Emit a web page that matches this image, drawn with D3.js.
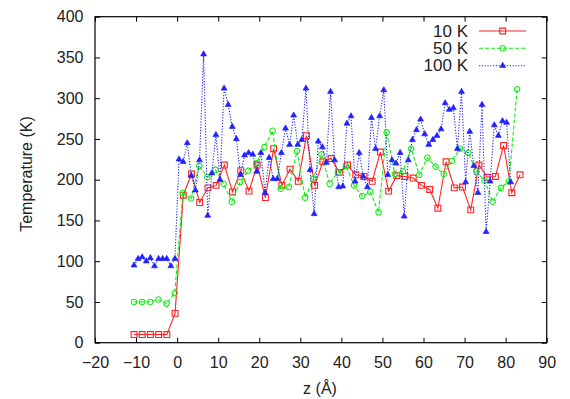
<!DOCTYPE html>
<html>
<head>
  <meta charset="UTF-8" />
  <title>Temperature profile</title>
  <script src="https://d3js.org/d3.v7.min.js"></script>
  <style>
    body { margin: 0; background: #fff; }
    text { font-family: "Liberation Sans", Arial, sans-serif; fill: #222; }
  </style>
</head>
<body>
  <div id="chart"></div>
  <script>
    // data
    const seriesNames = ["10 K", "50 K", "100 K"];
    const zStart = -10.5;
    const zSteps = [2, 1.985, 0.997];

    const temp10 = [10, 10, 10, 10, 10, 36, 181, 207, 172, 190, 193, 218, 185, 211, 186, 218,
      178, 238, 193, 213, 198, 254, 193, 222, 226, 209, 218, 206, 204, 198, 234, 186,
      205, 204, 202, 193, 188, 165, 222, 190, 191, 163, 218, 203, 204, 242, 184, 206];

    const temp50 = [50, 50, 50, 53, 48, 61, 184, 177, 217, 203, 212, 195, 173, 197, 211, 220,
      240, 260, 189, 191, 235, 178, 201, 231, 195, 209, 217, 193, 180, 185, 160, 258,
      207, 210, 238, 206, 227, 216, 207, 223, 238, 233, 210, 199, 173, 190, 198, 311];

    const temp100 = [95, 103, 105, 100, 104, 94, 103, 103, 103, 94, 103,
      225, 222, 245, 205, 187, 224, 354, 156, 208, 255, 200, 312, 292, 265, 250, 206,
      230, 233, 231, 210, 233, 184, 227, 201, 201, 233, 263, 243, 279, 243, 249, 312,
      212, 158, 247, 240, 221, 308, 224, 191, 192, 269, 278, 198, 233, 204, 191, 276,
      238, 278, 310, 206, 224, 220, 233, 155, 224, 249, 261, 274, 256, 243, 249, 254,
      262, 294, 286, 288, 238, 308, 197, 259, 217, 184, 292, 136, 198, 267, 254, 272,
      270, 197];

    const xTicks = [-20, -10, 0, 10, 20, 30, 40, 50, 60, 70, 80, 90];
    const yTicks = [0, 50, 100, 150, 200, 250, 300, 350, 400];

    const width = 570, height = 399;
    const plotLeft = 95, plotRight = 546.7, plotTop = 16.7, plotBottom = 342.7;

    const svg = d3.select("#chart").append("svg")
      .attr("width", width)
      .attr("height", height);

    const x = d3.scaleLinear().domain([-20, 90]).range([plotLeft, plotRight]);
    const y = d3.scaleLinear().domain([0, 400]).range([plotBottom, plotTop]);

    // axes, ticks pointing inwards on all four sides
    svg.append("g")
      .attr("transform", `translate(0,${plotBottom})`)
      .call(d3.axisBottom(x).tickValues(xTicks).tickSize(-5).tickPadding(13.5))
      .call(g => g.select(".domain").remove())
      .selectAll("text").style("font-size", "16px");

    svg.append("g")
      .attr("transform", `translate(0,${plotTop})`)
      .call(d3.axisTop(x).tickValues(xTicks).tickSize(-5).tickFormat(""))
      .call(g => g.select(".domain").remove());

    svg.append("g")
      .attr("transform", `translate(${plotLeft},0)`)
      .call(d3.axisLeft(y).tickValues(yTicks).tickSize(-5).tickPadding(11.5))
      .call(g => g.select(".domain").remove())
      .selectAll("text").style("font-size", "16px");

    svg.append("g")
      .attr("transform", `translate(${plotRight},0)`)
      .call(d3.axisRight(y).tickValues(yTicks).tickSize(-5).tickFormat(""))
      .call(g => g.select(".domain").remove());

    svg.selectAll(".tick line").attr("stroke", "#000");

    svg.append("rect")
      .attr("x", plotLeft).attr("y", plotTop)
      .attr("width", plotRight - plotLeft).attr("height", plotBottom - plotTop)
      .attr("fill", "none").attr("stroke", "#000").attr("stroke-width", 1.2);

    svg.append("text")
      .attr("transform", "translate(26,174) rotate(-90)")
      .attr("text-anchor", "middle")
      .attr("dominant-baseline", "central")
      .style("font-size", "16px")
      .text("Temperature (K)");

    svg.append("text")
      .attr("x", 320).attr("y", 388)
      .attr("text-anchor", "middle")
      .attr("dominant-baseline", "central")
      .style("font-size", "16px")
      .text("z (Å)");

    const series = [
      { name: seriesNames[0], values: temp10, step: zSteps[0], color: "#f22", dash: null, symbol: d3.symbolSquare, fill: "none", size: 34, sw: 1.1 },
      { name: seriesNames[1], values: temp50, step: zSteps[1], color: "#1e1", dash: "4,2", symbol: d3.symbolCircle, fill: "none", size: 24, sw: 1.1 },
      { name: seriesNames[2], values: temp100, step: zSteps[2], color: "#22f", dash: "1.2,1.6", symbol: d3.symbolTriangle, fill: "#22f", size: 15, sw: 0.7 }
    ];

    const line = d3.line().x(d => x(d.z)).y(d => y(d.t));

    series.forEach(s => {
      const pts = s.values.map((t, i) => ({ z: zStart + i * s.step, t: t }));
      const g = svg.append("g");
      g.append("path")
        .datum(pts)
        .attr("d", line)
        .attr("fill", "none")
        .attr("stroke", s.color)
        .attr("stroke-width", 1.1)
        .attr("stroke-dasharray", s.dash);
      g.selectAll("path.mark")
        .data(pts)
        .enter()
        .append("path")
        .attr("class", "mark")
        .attr("d", d3.symbol().type(s.symbol).size(s.size))
        .attr("transform", d => `translate(${x(d.z)},${y(d.t)})`)
        .attr("fill", s.fill)
        .attr("stroke", s.color)
        .attr("stroke-width", s.sw);
    });

    // legend
    const legendY = [31, 48.3, 65.7];
    series.forEach((s, i) => {
      const g = svg.append("g").attr("transform", `translate(0,${legendY[i]})`);
      g.append("text")
        .attr("x", 468)
        .attr("text-anchor", "end")
        .attr("dominant-baseline", "central")
        .style("font-size", "17px")
        .text(s.name);
      g.append("line")
        .attr("x1", 479).attr("x2", 526)
        .attr("stroke", s.color)
        .attr("stroke-width", 1.1)
        .attr("stroke-dasharray", s.dash);
      g.append("path")
        .attr("d", d3.symbol().type(s.symbol).size(s.size))
        .attr("transform", "translate(502.7,0)")
        .attr("fill", s.fill)
        .attr("stroke", s.color)
        .attr("stroke-width", s.sw);
    });
  </script>
</body>
</html>
